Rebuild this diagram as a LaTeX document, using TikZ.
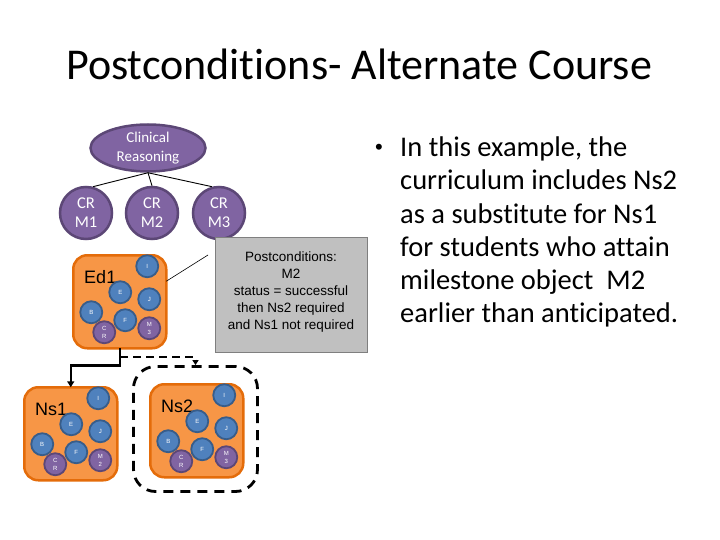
\documentclass[tikz,border=0pt]{standalone}
\usepackage{fontspec}
\setmainfont{Carlito}[Ligatures=NoCommon]
\newfontfamily\arialf{Liberation Sans}
\usetikzlibrary{shapes.geometric,arrows.meta}
\definecolor{purF}{HTML}{8064A2}
\definecolor{purD}{HTML}{5C4776}
\definecolor{orF}{HTML}{F79646}
\definecolor{orD}{HTML}{E46C0A}
\definecolor{blF}{HTML}{4F81BD}
\definecolor{blD}{HTML}{385D8A}
\definecolor{grF}{HTML}{C0C0C0}
\definecolor{grD}{HTML}{7F7F7F}
\tikzset{
 purell/.style={ellipse, draw=purD, fill=purF, line width=2.5pt, minimum width=115pt, minimum height=47pt, inner sep=0pt, text=white, align=center, font=\fontsize{15}{19}\selectfont},
 purcirc/.style={circle, draw=purD, fill=purF, line width=2.5pt, minimum size=52pt, inner sep=0pt, text=white, align=center, font=\fontsize{16.5}{19}\selectfont},
 clusterbox/.style={rectangle, rounded corners=14pt, draw=orD, fill=orF, line width=2.5pt, anchor=north west, outer sep=0pt, minimum width=93pt, minimum height=93pt},
 smalldot/.style={circle, draw=blD, fill=blF, line width=1.8pt, minimum size=22pt, inner sep=0pt, text=white, align=center, font=\arialf\fontsize{6}{8.5}\selectfont},
 psmalldot/.style={smalldot, draw=purD, fill=purF},
 clabel/.style={font=\arialf\fontsize{18}{20}\selectfont, text=black, inner sep=0pt},
 treeline/.style={draw=black, line width=0.9pt},
 flowline/.style={draw=black, line width=2.5pt, -{Triangle[length=6pt,width=7pt]}},
 dashflow/.style={draw=black, line width=2.5pt, dash pattern=on 8pt off 5pt, -{Triangle[length=5pt,width=6pt]}},
 groupbox/.style={rectangle, draw=black, line width=2.8pt, dash pattern=on 10pt off 7pt, rounded corners=22pt, minimum width=124pt, minimum height=125pt, inner sep=0pt},
 graybox/.style={rectangle, draw=grD, fill=grF, line width=0.8pt, minimum width=152pt, minimum height=115pt, inner sep=0pt},
 posttxt/.style={font=\arialf\fontsize{13.5}{17}\selectfont, align=center, inner sep=0pt},
 bodytxt/.style={font=\fontsize{28.5}{33}\selectfont, anchor=base west, inner sep=0pt},
}
\newcommand\mycluster[5]{%
 \node[clusterbox] (#1) at (#2,#3) {};
 \begin{scope}[shift={(#2,#3)}]
 \node[clabel] (#1-lab) at (27,22) {#4};
 \node[smalldot] (#1-I) at (74,11) {I};
 \node[smalldot] (#1-E) at (47,37) {E};
 \node[smalldot] (#1-J) at (76,44) {J};
 \node[smalldot] (#1-B) at (18,57) {B};
 \node[smalldot] (#1-F) at (52,65) {F};
 \node[psmalldot] (#1-C) at (31,77) {C\\R};
 \node[psmalldot] (#1-M) at (76,73) {M\\#5};
 \end{scope}}
\begin{document}
\begin{tikzpicture}[x=1pt,y=-1pt]
\useasboundingbox (0,0) rectangle (720,540);
\fill[white] (0,0) rectangle (720,540);
% title
\node[font=\fontsize{44}{52}\selectfont, anchor=base west, inner sep=0pt] (title) at (66,80) {Postconditions- Alternate Course};
% tree
\node[purell] (CRR) at (148,148) {Clinical\\Reasoning};
\node[purcirc] (M1) at (86,213) {CR\\M1};
\node[purcirc] (M2) at (152,213) {CR\\M2};
\node[purcirc] (M3) at (219,213) {CR\\M3};
\draw[treeline] (CRR.south) -- (M1.75);
\draw[treeline] (CRR.south) -- (M2.north);
\draw[treeline] (CRR.south) -- (M3.105);
% clusters
\mycluster{Ed1}{73.25}{255.25}{Ed1}{3}
\mycluster{Ns1}{24.25}{387.25}{Ns1}{2}
\mycluster{Ns2}{150.25}{384.25}{Ns2}{3}
% postconditions box
\node[graybox] (post) at (291.5,295) {};
\node[posttxt] (posttext) at (291,292) {Postconditions:\\M2\\status = successful\\then Ns2 required\\and Ns1 not required};
\coordinate (callout) at (208,255);
\draw[treeline, line width=0.6pt] (Ed1.north east) ++(0,26) -- (callout);
% group
\node[groupbox] (grp) at (195.5,429) {};
% flows
\draw[flowline] (Ed1.south) -- ++(0,17) -| (Ns1.north);
\coordinate (branch) at (120,357);
\draw[dashflow] (branch) -| (grp.north);
% bullet text
\node[font=\arialf\fontsize{22}{26}\selectfont, inner sep=0pt, anchor=base] (bul) at (379,155) {•};
\node[bodytxt] (b1) at (400,157) {In this example, the};
\node[bodytxt] (b2) at (400,190) {curriculum includes Ns2};
\node[bodytxt] (b3) at (400,223) {as a substitute for Ns1};
\node[bodytxt] (b4) at (400,256) {for students who attain};
\node[bodytxt] (b5) at (400,289) {milestone object\ \ M2};
\node[bodytxt] (b6) at (400,322) {earlier than anticipated.};
\end{tikzpicture}
\end{document}
